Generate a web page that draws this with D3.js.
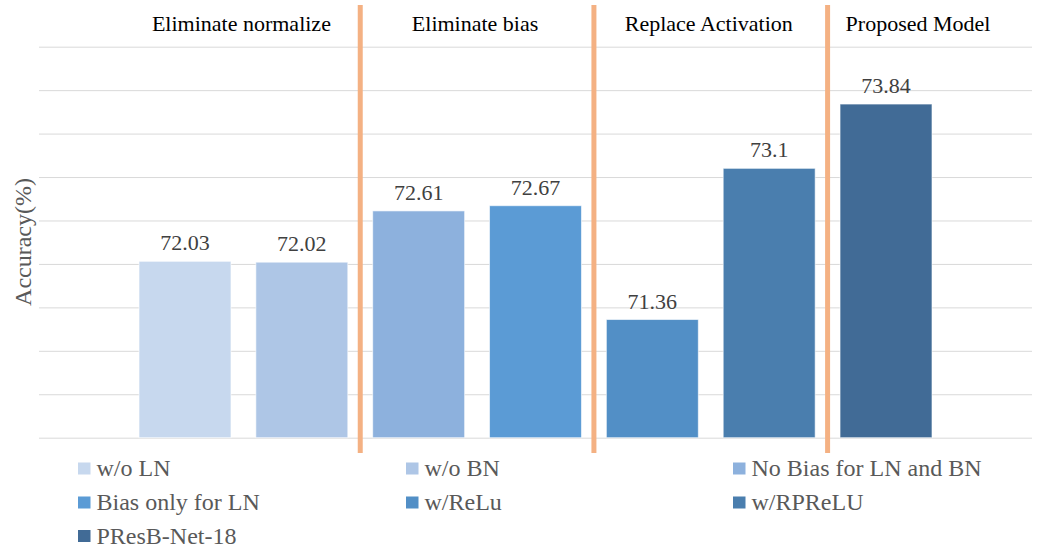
<!DOCTYPE html>
<html>
<head>
<meta charset="utf-8">
<script src="https://cdn.jsdelivr.net/npm/d3@7"></script>
<style>
  html, body { margin: 0; padding: 0; background: #fff; }
  svg { display: block; }
  svg text { font-family: "Times New Roman", "Liberation Serif", Times, "DejaVu Serif", serif; }
</style>
</head>
<body>
<svg id="chart" width="1037" height="548"></svg>
<script>
// Ablation results: one bar per model variant
const variants = ["w/o LN", "w/o BN", "No Bias for LN and BN", "Bias only for LN", "w/ReLu", "w/RPReLU", "PResB-Net-18"];
const accuracy = [72.03, 72.02, 72.61, 72.67, 71.36, 73.1, 73.84];
const colors = ["#C7D8EE", "#AEC6E6", "#8DB1DD", "#5B9BD5", "#528FC6", "#4A7EAE", "#416B96"];

// Experiment groups shown across the top
const groupTitles = ["Eliminate normalize", "Eliminate bias", "Replace Activation", "Proposed Model"];
const groupMembers = [[0, 1], [2, 3], [4, 5], [6]];

const yDomain = [70, 74.5];

const FONT = '"Times New Roman", "Liberation Serif", Times, "DejaVu Serif", serif';

const svg = d3.select("#chart");
const plot = { left: 39, right: 1032, top: 46.7, bottom: 437.7 };

const x = d3.scaleBand()
  .domain(variants)
  .range([plot.left, plot.right])
  .paddingInner(0.213)
  .paddingOuter(0.856);

const y = d3.scaleLinear()
  .domain(yDomain)
  .range([plot.bottom, plot.top]);

// Horizontal gridlines (no tick labels)
const grid = svg.append("g")
  .attr("transform", `translate(${plot.left},0)`)
  .call(d3.axisLeft(y).ticks(9).tickSize(-(plot.right - plot.left)).tickFormat(""));
grid.select(".domain").remove();
grid.selectAll(".tick line").attr("stroke", "#D9D9D9").attr("stroke-width", 1);

// Bars
const data = variants.map((name, i) => ({ name, value: accuracy[i], color: colors[i] }));
svg.append("g").selectAll("rect")
  .data(data)
  .join("rect")
  .attr("x", d => x(d.name))
  .attr("y", d => y(d.value))
  .attr("width", x.bandwidth())
  .attr("height", d => y(yDomain[0]) - y(d.value))
  .attr("fill", d => d.color)
  .attr("stroke", "#ffffff")
  .attr("stroke-opacity", 0.6)
  .attr("stroke-width", 1);

// Value labels
svg.append("g").selectAll("text")
  .data(data)
  .join("text")
  .attr("x", d => x(d.name) + x.bandwidth() / 2)
  .attr("y", d => y(d.value) - 11)
  .attr("text-anchor", "middle")
  .attr("font-family", FONT)
  .attr("font-size", 22)
  .attr("fill", "#404040")
  .text(d => String(d.value));

// Orange separators between experiment groups
const bw = x.bandwidth();
const seps = [];
for (let g = 0; g < groupMembers.length - 1; g++) {
  const lastEnd = x(variants[groupMembers[g][groupMembers[g].length - 1]]) + bw;
  const nextStart = x(variants[groupMembers[g + 1][0]]);
  seps.push((lastEnd + nextStart) / 2);
}
svg.append("g").selectAll("line")
  .data(seps)
  .join("line")
  .attr("x1", d => d).attr("x2", d => d)
  .attr("y1", 5).attr("y2", 453)
  .attr("stroke", "#F4B183")
  .attr("stroke-width", 5);

// Group titles
svg.append("g").selectAll("text")
  .data(groupTitles)
  .join("text")
  .attr("x", (t, g) => {
    const m = groupMembers[g];
    const start = x(variants[m[0]]);
    const end = x(variants[m[m.length - 1]]) + bw;
    return (start + end) / 2 + (m.length === 1 ? 32 : -2);
  })
  .attr("y", 31)
  .attr("text-anchor", "middle")
  .attr("font-family", FONT)
  .attr("font-size", 22)
  .attr("fill", "#000")
  .text(t => t);

// Y axis title
svg.append("text")
  .attr("transform", "translate(31,242) rotate(-90)")
  .attr("text-anchor", "middle")
  .attr("font-family", FONT)
  .attr("font-size", 24)
  .attr("fill", "#595959")
  .text("Accuracy(%)");

// Legend: three columns, row-major order
const legendCols = [78, 406, 733];
const legendRows = [476, 510, 543.5];
const legend = svg.append("g").selectAll("g")
  .data(data)
  .join("g")
  .attr("transform", (d, i) => `translate(${legendCols[i % 3]},${legendRows[Math.floor(i / 3)]})`);
legend.append("rect")
  .attr("x", 0).attr("y", -13.5)
  .attr("width", 12.5).attr("height", 12)
  .attr("fill", d => d.color);
legend.append("text")
  .attr("x", 18.5)
  .attr("y", 0)
  .attr("font-family", FONT)
  .attr("font-size", 24)
  .attr("fill", "#595959")
  .text(d => d.name);
</script>
</body>
</html>
